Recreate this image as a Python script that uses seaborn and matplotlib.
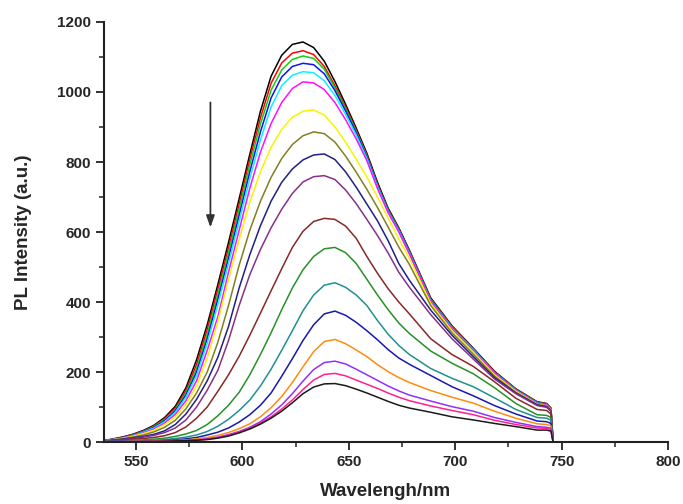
import numpy as np
import pandas as pd
import matplotlib
matplotlib.use("Agg")
import matplotlib.pyplot as plt
from matplotlib.ticker import MultipleLocator
import seaborn as sns

# wavelength grid (nm) the spectra were read at
wavelength = [535, 538.5, 543.5, 548.5, 553.5, 558.5, 563.5, 568.5, 573.5, 578.5,
              583.5, 588.5, 593.5, 598.5, 603.5, 608.5, 613.5, 618.5, 623.5, 628.5,
              633.5, 638.5, 643.5, 648.5, 653.5, 658.5, 663.5, 668.5, 673.5, 678.5,
              688.5, 698.5, 708.5, 718.5, 728.5, 738.5, 743, 745, 746]

# PL intensity of each spectrum, top (first) to bottom (last)
pl_01 = [4, 8, 14, 22, 33, 48, 70, 102, 155, 235, 335, 450, 570, 695, 822, 945, 1045, 1105, 1136, 1143,
         1127, 1088, 1030, 965, 897, 825, 742, 668, 612, 548, 412, 332, 268, 202, 152, 115, 110, 97, 0]
pl_02 = [4, 7, 13, 21, 31, 46, 67, 97, 147, 222, 322, 437, 555, 680, 808, 926, 1025, 1083, 1111, 1118,
         1107, 1073, 1018, 957, 891, 820, 737, 664, 609, 545, 409, 330, 266, 200, 151, 114, 109, 96, 0]
pl_03 = [4, 7, 12, 20, 30, 44, 64, 93, 140, 210, 308, 422, 540, 665, 792, 908, 1005, 1063, 1093, 1103,
         1096, 1065, 1012, 952, 887, 817, 734, 662, 607, 543, 407, 328, 265, 199, 150, 113, 108, 95, 0]
pl_04 = [4, 7, 12, 19, 29, 42, 61, 89, 134, 200, 295, 408, 525, 648, 772, 886, 983, 1043, 1073, 1082,
         1078, 1052, 1004, 946, 883, 814, 732, 660, 605, 541, 405, 326, 264, 198, 149, 112, 107, 94, 0]
pl_05 = [3, 6, 11, 18, 28, 40, 58, 85, 128, 190, 282, 393, 510, 630, 752, 863, 957, 1018, 1048, 1058,
         1055, 1032, 990, 936, 877, 810, 729, 658, 603, 539, 403, 325, 263, 197, 148, 111, 106, 93, 0]
pl_06 = [3, 6, 11, 17, 26, 37, 54, 79, 118, 175, 262, 358, 485, 605, 725, 828, 910, 970, 1010, 1029,
         1026, 1007, 970, 921, 866, 804, 724, 655, 600, 537, 401, 323, 261, 196, 147, 110, 105, 92, 0]
pl_07 = [3, 6, 10, 16, 24, 34, 50, 72, 108, 160, 240, 345, 465, 578, 685, 772, 842, 893, 928, 945,
         949, 934, 900, 857, 808, 757, 700, 640, 580, 525, 396, 318, 257, 192, 145, 108, 103, 91, 0]
pl_08 = [3, 5, 9, 14, 20, 29, 42, 62, 95, 140, 200, 285, 390, 505, 605, 688, 756, 810, 850, 875,
         886, 881, 857, 817, 771, 722, 670, 614, 557, 507, 390, 312, 251, 188, 142, 107, 102, 90, 0]
pl_09 = [3, 5, 8, 12, 16, 22, 32, 50, 80, 122, 175, 242, 330, 440, 535, 618, 688, 742, 780, 806,
         820, 823, 807, 772, 728, 680, 632, 575, 510, 462, 377, 305, 244, 184, 140, 106, 101, 89, 0]
pl_10 = [2, 4, 7, 10, 14, 19, 27, 40, 63, 100, 148, 205, 290, 390, 478, 550, 612, 665, 710, 743,
         758, 761, 750, 720, 681, 636, 590, 540, 485, 442, 364, 295, 237, 180, 138, 104, 99, 88, 0]
pl_11 = [2, 4, 6, 8, 10, 13, 18, 27, 43, 68, 100, 145, 192, 245, 305, 368, 432, 495, 556, 602,
         630, 639, 636, 617, 582, 530, 482, 438, 400, 366, 295, 250, 216, 172, 125, 93, 90, 80, 0]
pl_12 = [2, 3, 4, 5, 6, 8, 11, 16, 23, 33, 50, 75, 105, 142, 192, 250, 312, 378, 440, 492,
         530, 552, 556, 541, 510, 465, 420, 378, 340, 310, 260, 225, 195, 155, 110, 78, 76, 70, 0]
pl_13 = [2, 3, 3, 4, 4, 5, 7, 10, 14, 20, 30, 45, 65, 90, 120, 160, 208, 262, 318, 375,
         420, 448, 455, 442, 420, 390, 347, 308, 276, 250, 210, 182, 158, 126, 93, 70, 68, 62, 0]
pl_14 = [1, 2, 2, 2, 3, 3, 4, 6, 9, 13, 20, 28, 40, 57, 78, 105, 140, 188, 238, 290,
         335, 366, 374, 362, 342, 318, 292, 264, 240, 222, 190, 158, 132, 104, 80, 60, 58, 53, 0]
pl_15 = [1, 1, 1, 2, 2, 2, 3, 4, 6, 9, 13, 19, 27, 38, 52, 72, 98, 130, 170, 215,
         258, 287, 293, 281, 263, 244, 221, 201, 184, 170, 147, 128, 111, 88, 68, 52, 50, 46, 0]
pl_16 = [1, 1, 1, 1, 1, 1, 2, 3, 4, 6, 9, 14, 21, 30, 42, 58, 80, 106, 138, 174,
         207, 227, 231, 223, 208, 192, 176, 160, 146, 134, 117, 101, 88, 70, 56, 44, 42, 39, 0]
pl_17 = [1, 1, 1, 1, 1, 1, 2, 3, 4, 5, 8, 12, 19, 28, 39, 54, 72, 94, 120, 150,
         177, 193, 196, 189, 177, 165, 153, 140, 128, 118, 103, 90, 78, 62, 50, 40, 39, 36, 0]
pl_18 = [0, 0, 0, 0, 1, 1, 2, 3, 4, 5, 7, 11, 17, 26, 37, 51, 68, 88, 112, 138,
         157, 166, 167, 161, 151, 140, 128, 116, 105, 97, 85, 72, 63, 53, 44, 34, 34, 31, 0]

spectra = [pl_01, pl_02, pl_03, pl_04, pl_05, pl_06, pl_07, pl_08, pl_09,
           pl_10, pl_11, pl_12, pl_13, pl_14, pl_15, pl_16, pl_17, pl_18]

# Origin-like colour cycle
colors = ['#000000', '#ff0000', '#10d010', '#1010ff', '#10f0ff', '#ff10ff',
          '#f5f500', '#808020', '#202088', '#883088', '#882828', '#289028',
          '#209090', '#1818b0', '#ff8c10', '#9030ff', '#ff2090', '#1a1a1a']

rows = []
for i, vals in enumerate(spectra):
    for x, y in zip(wavelength, vals):
        rows.append({'wavelength': x, 'intensity': y, 'spectrum': i})
df = pd.DataFrame(rows)

sns.set_style("ticks")
plt.rcParams['font.family'] = ['Liberation Sans', 'DejaVu Sans']
plt.rcParams['font.weight'] = 'bold'

fig = plt.figure(figsize=(6.83, 5.04), dpi=100)
ax = fig.add_axes([104 / 683, 62 / 504, 564 / 683, 420 / 504])

sns.lineplot(data=df, x='wavelength', y='intensity', hue='spectrum',
             palette=colors, legend=False, sort=False, estimator=None,
             linewidth=1.1, ax=ax)

# arrow showing decreasing intensity
ax.annotate('', xy=(585, 605), xytext=(585, 978),
            arrowprops=dict(arrowstyle='-|>,head_width=0.25,head_length=0.7',
                            color='#333333', lw=1.3))

ax.set_xlim(535, 800)
ax.set_ylim(0, 1200)
ax.xaxis.set_major_locator(MultipleLocator(50))
ax.xaxis.set_minor_locator(MultipleLocator(25))
ax.yaxis.set_major_locator(MultipleLocator(200))
ax.yaxis.set_minor_locator(MultipleLocator(100))
ax.tick_params(which='major', direction='out', length=6, width=1.3,
               labelsize=11, color='#222222')
ax.tick_params(which='minor', direction='out', length=3.5, width=1.1,
               color='#222222')
for lab in ax.get_xticklabels() + ax.get_yticklabels():
    lab.set_fontweight('bold')

sns.despine(ax=ax)
for s in ['left', 'bottom']:
    ax.spines[s].set_linewidth(1.5)
    ax.spines[s].set_color('#222222')

ax.set_xlabel('Wavelengh/nm', fontsize=13.5, fontweight='bold', labelpad=10)
ax.set_ylabel('PL Intensity (a.u.)', fontsize=13.5, fontweight='bold', labelpad=18)

fig.savefig('out.png', dpi=100)
